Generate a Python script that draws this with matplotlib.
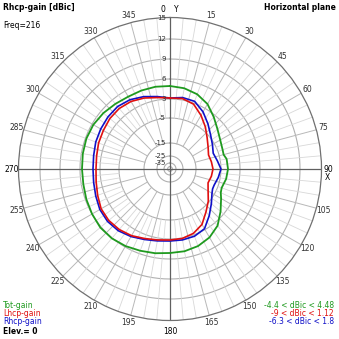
import numpy as np
import matplotlib
matplotlib.use("Agg")
from matplotlib import pyplot as plt

# radial scale of the plot: ring labels (dBic) and their relative radius
ring_db = [-40, -35, -25, -15, -5, 3, 6, 9, 12, 15]
ring_r = [0.0, 6.0, 13.0, 26.0, 51.0, 70.0, 90.0, 110.0, 130.0, 151.5]
ring_labels = [15, 12, 9, 6, 3, -5, -15, -25, -35]

# azimuth (deg, clockwise from Y)
az = [0, 10, 20, 30, 40, 50, 60, 70, 75, 80, 90, 100, 110, 115, 120, 130,
      140, 150, 160, 170, 180, 190, 200, 210, 220, 230, 240, 250, 260, 270,
      280, 290, 300, 310, 320, 330, 340, 350]
tot_gain = [4.95, 4.8, 4.43, 3.75, 2.16, -0.37, -2.05, -2.89, -3.1, -2.26,
            -2.05, -2.47, -3.32, -2.89, -1.63, 1.32, 3.6, 4.35, 4.8, 5.03,
            5.1, 5.33, 5.55, 5.85, 6.08, 6.15, 6.0, 5.85, 5.7, 5.7, 5.78,
            5.85, 5.78, 5.55, 5.25, 5.03, 5.03, 5.03]

az2 = [0, 10, 20, 30, 40, 50, 60, 70, 80, 90, 100, 110, 120, 130, 140, 150,
       160, 170, 180, 190, 200, 210, 220, 230, 240, 250, 260, 270, 280, 290,
       300, 310, 320, 330, 340, 350]
lhcp_gain = [3.15, 3.23, 2.58, -0.37, -3.32, -6.0, -7.8, -9.0, -8.6, -8.2,
             -8.6, -9.2, -7.8, -5.4, -2.9, 0.47, 2.37, 3.08, 3.15, 3.3, 3.6,
             4.05, 4.35, 4.5, 4.43, 4.05, 3.75, 3.6, 3.68, 3.9, 4.05, 4.28,
             4.35, 4.2, 3.83, 3.38]

az3 = [0, 10, 20, 30, 40, 50, 60, 70, 80, 90, 100, 110, 115, 120, 130, 140,
       150, 160, 170, 180, 190, 200, 210, 220, 230, 240, 250, 260, 270, 280,
       290, 300, 310, 320, 330, 340, 350]
rhcp_gain = [3.15, 3.38, 3.3, 1.32, -1.63, -4.16, -5.8, -7.0, -6.2, -5.0,
             -5.8, -6.6, -6.6, -6.0, -3.74, -0.79, 2.58, 3.23, 3.3, 3.3, 3.45,
             3.75, 4.2, 4.58, 4.73, 4.65, 4.35, 4.13, 4.05, 4.13, 4.35, 4.5,
             4.65, 4.73, 4.5, 4.05, 3.53]

GREEN = "#1f9a1f"
RED = "#e01010"
BLUE = "#1010c8"


def fwd(x):
    return np.interp(x, ring_db, ring_r)


def inv(x):
    return np.interp(x, ring_r, ring_db)


def closed(a, v):
    a = np.deg2rad(list(a) + [a[0]])
    return a, list(v) + [v[0]]


W = 339
fig = plt.figure(figsize=(3.39, 3.39), dpi=100)
cx, cy, R = 170, 169, 151.5
ax = fig.add_axes([(cx - R) / W, (W - cy - R) / W, 2 * R / W, 2 * R / W],
                  projection="polar")
ax.set_theta_zero_location("N")
ax.set_theta_direction(-1)
ax.set_rscale("function", functions=(fwd, inv))
ax.set_rlim(-40, 15)
ax.grid(False)
ax.set_xticks([])
ax.set_yticks([])
ax.spines["polar"].set_color("#707070")
ax.spines["polar"].set_linewidth(0.9)

full = np.linspace(0, 2 * np.pi, 361)
for v in ring_labels[1:]:
    ax.plot(full, np.full_like(full, v), color="#b0b0b0", lw=0.8, zorder=1)
ax.plot(full, np.full_like(full, -38), color="#b0b0b0", lw=0.8, zorder=1)

for a in range(0, 360, 5):
    t = np.deg2rad(a)
    if a % 90 == 0:
        continue
    if a % 15 == 0:
        ax.plot([t, t], [-15, 15], color="#b8b8b8", lw=0.7, zorder=1)
    else:
        ax.plot([t, t], [-5, 15], color="#d8d8d8", lw=0.6, zorder=1)
for a in (0, 90):
    t = np.deg2rad(a)
    ax.plot([t, t], [-40, 15], color="#606060", lw=0.9, zorder=1)
    ax.plot([t + np.pi, t + np.pi], [-40, 15], color="#606060", lw=0.9, zorder=1)

t, r = closed(az, tot_gain)
ax.plot(t, r, color=GREEN, lw=1.3, zorder=3)
t, r = closed(az3, rhcp_gain)
ax.plot(t, r, color=BLUE, lw=1.2, zorder=3)
t, r = closed(az2, lhcp_gain)
ax.plot(t, r, color=RED, lw=1.2, zorder=4)

fs = 5.5
for v in ring_labels:
    y = cy - fwd(v)
    fig.text(166 / W, 1 - y / W, str(v), ha="right", va="center",
             fontsize=5, color="#303030")

for a in range(15, 360, 15):
    if a in (90, 180, 270):
        continue
    th = np.deg2rad(a)
    x = cx + 159 * np.sin(th)
    y = cy - 159 * np.cos(th)
    fig.text(x / W, 1 - y / W, str(a), ha="center", va="center", fontsize=fs,
             color="#303030")
fig.text(163 / W, 1 - 10 / W, "0", ha="center", va="center", fontsize=fs)
fig.text(176 / W, 1 - 9 / W, "Y", ha="center", va="center", fontsize=fs)
fig.text(328 / W, 1 - 169 / W, "90", ha="center", va="center", fontsize=fs)
fig.text(327 / W, 1 - 178 / W, "X", ha="center", va="center", fontsize=fs)
fig.text(170 / W, 1 - 332 / W, "180", ha="center", va="center", fontsize=fs)
fig.text(12 / W, 1 - 170 / W, "270", ha="center", va="center", fontsize=fs)

fig.text(3 / W, 1 - 7 / W, "Rhcp-gain [dBic]", ha="left", va="center",
         fontsize=fs, fontweight="bold")
fig.text(3 / W, 1 - 25 / W, "Freq=216", ha="left", va="center", fontsize=fs)
fig.text(336 / W, 1 - 7 / W, "Horizontal plane", ha="right", va="center",
         fontsize=fs, fontweight="bold")

fig.text(3 / W, 1 - 305 / W, "Tot-gain", color=GREEN, fontsize=fs, va="center")
fig.text(3 / W, 1 - 313 / W, "Lhcp-gain", color=RED, fontsize=fs, va="center")
fig.text(3 / W, 1 - 322 / W, "Rhcp-gain", color=BLUE, fontsize=fs, va="center")
fig.text(3 / W, 1 - 331 / W, "Elev.= 0", color="black", fontsize=fs,
         va="center", fontweight="bold")
fig.text(334 / W, 1 - 305 / W, "-4.4 < dBic < 4.48", color=GREEN, fontsize=fs,
         va="center", ha="right")
fig.text(334 / W, 1 - 313 / W, "-9 < dBic < 1.12", color=RED, fontsize=fs,
         va="center", ha="right")
fig.text(334 / W, 1 - 322 / W, "-6.3 < dBic < 1.8", color=BLUE, fontsize=fs,
         va="center", ha="right")

fig.savefig("out.png", dpi=100)
